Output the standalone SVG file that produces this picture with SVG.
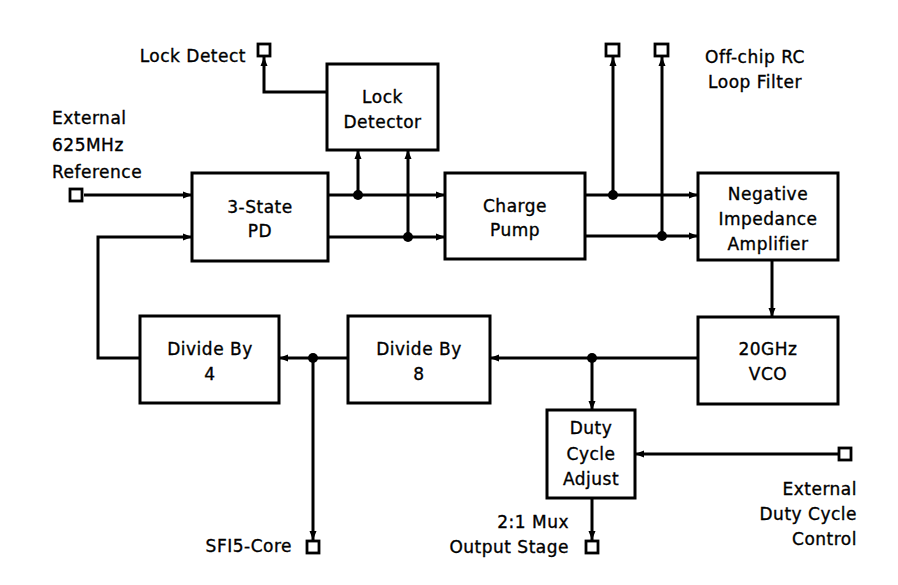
<svg xmlns="http://www.w3.org/2000/svg" width="898" height="585" viewBox="0 0 898 585">
<defs>
<marker id="ah" markerUnits="userSpaceOnUse" markerWidth="10" markerHeight="10" viewBox="0 0 10 10" refX="10" refY="5" orient="auto">
<path d="M1,1.5 L10,5 L1,8.5 Z" fill="#000"/>
</marker>
</defs>
<style>
.box{fill:#fff;stroke:#000;stroke-width:3}
.pad{fill:#fff;stroke:#000;stroke-width:2.8}
.w{fill:none;stroke:#000;stroke-width:3;stroke-linejoin:miter}
.a{marker-end:url(#ah)}
.dot{fill:#000}
text{font-family:"DejaVu Sans","Liberation Sans",Arial,sans-serif;font-size:17px;fill:#000;stroke:#000;stroke-width:0.35;letter-spacing:0.5px}
.c{text-anchor:middle}
.e{text-anchor:end}
</style>
<rect width="898" height="585" fill="#fff"/>
<g id="connectors">
<path class="w a" d="M84,195 H192"/>
<path class="w a" d="M140,358 H98 V237 H192"/>
<path class="w a" d="M328,195 H445"/>
<path class="w a" d="M328,237 H445"/>
<path class="w a" d="M358,195 V150"/>
<path class="w a" d="M408,237 V150"/>
<path class="w a" d="M327,92 H264 V57"/>
<path class="w a" d="M585,195 H698"/>
<path class="w a" d="M585,236 H698"/>
<path class="w a" d="M613,195 V57"/>
<path class="w a" d="M662,236 V57"/>
<path class="w a" d="M772,260 V317"/>
<path class="w a" d="M698,358 H490"/>
<path class="w a" d="M592,358 V410"/>
<path class="w a" d="M348,358 H279"/>
<path class="w a" d="M313,358 V540"/>
<path class="w a" d="M838,454 H635"/>
<path class="w a" d="M592,498 V540"/>
<circle class="dot" cx="358" cy="195" r="5"/>
<circle class="dot" cx="408" cy="237" r="5"/>
<circle class="dot" cx="613" cy="195" r="5"/>
<circle class="dot" cx="662" cy="236" r="5"/>
<circle class="dot" cx="592" cy="358" r="5"/>
<circle class="dot" cx="313" cy="358" r="5"/>
</g>
<g id="pad-lockdetect"><rect class="pad" x="258" y="44" width="12" height="12"/><text class="e" x="246" y="62">Lock Detect</text></g>
<g id="pad-ref"><rect class="pad" x="70" y="189" width="12" height="12"/><text x="52" y="124">External</text><text x="52" y="151">625MHz</text><text x="52" y="178">Reference</text></g>
<g id="pad-rc1"><rect class="pad" x="606" y="44" width="13" height="12"/></g>
<g id="pad-rc2"><rect class="pad" x="655" y="44" width="13" height="12"/><text class="c" x="755" y="63">Off-chip RC</text><text class="c" x="755" y="88">Loop Filter</text></g>
<g id="pad-sfi5"><rect class="pad" x="307" y="541" width="12" height="12"/><text class="e" x="292" y="552">SFI5-Core</text></g>
<g id="pad-mux"><rect class="pad" x="586" y="541" width="12" height="12"/><text class="e" x="569" y="528">2:1 Mux</text><text class="e" x="569" y="553">Output Stage</text></g>
<g id="pad-duty"><rect class="pad" x="839" y="448" width="12" height="12"/><text class="e" x="857" y="495">External</text><text class="e" x="857" y="520">Duty Cycle</text><text class="e" x="857" y="545">Control</text></g>
<g id="lock-detector"><rect class="box" x="327" y="64" width="111" height="86"/><text class="c" x="382.5" y="103">Lock</text><text class="c" x="382.5" y="128">Detector</text></g>
<g id="pd"><rect class="box" x="192" y="173" width="136" height="88"/><text class="c" x="260" y="213">3-State</text><text class="c" x="260" y="237">PD</text></g>
<g id="charge-pump"><rect class="box" x="445" y="173" width="140" height="86"/><text class="c" x="515" y="212">Charge</text><text class="c" x="515" y="236">Pump</text></g>
<g id="nia"><rect class="box" x="698" y="173" width="140" height="87"/><text class="c" x="768" y="200">Negative</text><text class="c" x="768" y="225">Impedance</text><text class="c" x="768" y="250">Amplifier</text></g>
<g id="vco"><rect class="box" x="698" y="317" width="140" height="87"/><text class="c" x="768" y="355">20GHz</text><text class="c" x="768" y="380">VCO</text></g>
<g id="div8"><rect class="box" x="348" y="316" width="142" height="87"/><text class="c" x="419" y="355">Divide By</text><text class="c" x="419" y="380">8</text></g>
<g id="div4"><rect class="box" x="140" y="316" width="139" height="87"/><text class="c" x="210" y="355">Divide By</text><text class="c" x="210" y="380">4</text></g>
<g id="duty-cycle"><rect class="box" x="547" y="410" width="88" height="88"/><text class="c" x="591" y="434">Duty</text><text class="c" x="591" y="460">Cycle</text><text class="c" x="591" y="485">Adjust</text></g>
</svg>
